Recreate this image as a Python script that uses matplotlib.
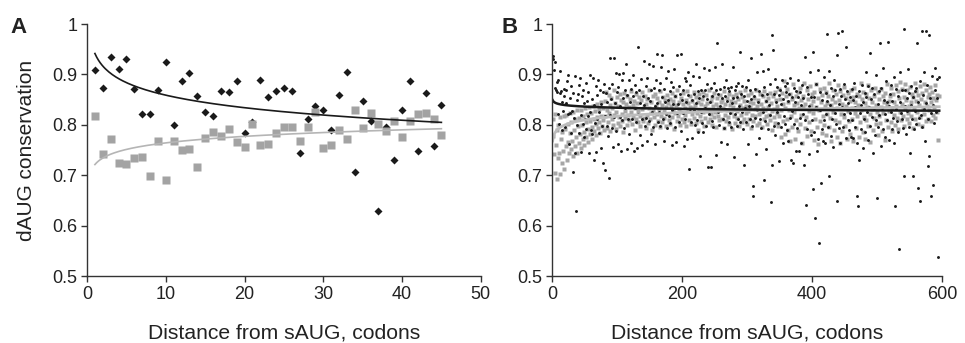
import numpy as np
import matplotlib
matplotlib.use('Agg')
import matplotlib.pyplot as plt

plt.rcParams['font.family'] = ['Liberation Sans', 'DejaVu Sans']

# panel A: first 45 codons
a_x = np.arange(1, 46)
a_black = [0.909, 0.874, 0.934, 0.910, 0.930, 0.871, 0.821, 0.821, 0.869, 0.924,
           0.799, 0.886, 0.902, 0.858, 0.825, 0.817, 0.868, 0.866, 0.887, 0.783,
           0.805, 0.889, 0.856, 0.868, 0.874, 0.867, 0.744, 0.812, 0.838, 0.830,
           0.789, 0.859, 0.904, 0.707, 0.848, 0.807, 0.628, 0.795, 0.730, 0.830,
           0.887, 0.748, 0.864, 0.758, 0.840]
a_grey = [0.817, 0.742, 0.772, 0.725, 0.723, 0.734, 0.736, 0.698, 0.768, 0.691,
          0.768, 0.750, 0.752, 0.717, 0.774, 0.785, 0.778, 0.791, 0.766, 0.756,
          0.801, 0.759, 0.762, 0.784, 0.795, 0.795, 0.768, 0.795, 0.825, 0.754,
          0.759, 0.790, 0.772, 0.829, 0.793, 0.823, 0.802, 0.787, 0.808, 0.776,
          0.808, 0.821, 0.823, 0.811, 0.780]

# panel B: first 595 codons, values in thousandths
b_black_txt = """
936 930 909 873 925 869 885 866 822 889 801 864 906 867 846 789 828 871 857 796
869 844 886 822 898 761 824 853 877 784 828 864 707 814 897 745 628 800 850 861
783 878 893 747 820 858 801 869 844 776 812 883 791 848 866 817 745 899 826 790
852 781 893 839 731 804 877 746 859 812 889 783 825 870 754 841 797 866 724 880
818 710 864 798 846 777 694 873 820 932 852 793 881 756 932 815 844 902 787 866
762 876 901 815 838 748 889 810 853 903 794 870 833 920 752 860 811 889 781 846
871 764 812 898 857 748 834 879 806 866 754 955 821 869 843 780 891 812 760 857
926 840 798 877 813 893 768 854 921 807 848 782 869 826 917 795 873 838 761 889
843 940 806 870 826 883 798 915 856 939 812 871 768 845 892 822 793 906 850 818
867 803 884 829 759 876 842 910 795 858 765 823 939 841 877 806 862 940 787 850
824 870 758 893 812 846 887 771 860 904 712 832 878 805 850 773 897 829 861 799
844 920 810 867 786 853 894 739 826 870 803 858 786 912 833 869 797 851 880 717
822 909 845 717 873 808 857 795 883 830 914 869 741 962 825 861 800 872 838 765
854 921 812 876 793 857 832 889 761 848 873 806 868 823 875 795 843 914 854 736
869 821 877 798 856 811 883 838 944 805 862 826 877 791 858 720 833 876 806 847
889 761 838 870 812 852 932 798 679 659 857 813 871 742 904 829 845 774 868 811
940 793 859 825 906 690 876 808 848 752 862 911 791 840 880 819 646 979 720 948
861 797 890 779 846 826 875 803 859 729 870 796 842 889 763 851 818 877 802 866
882 790 848 768 861 813 892 731 855 827 724 874 801 846 748 868 793 856 889 748
866 814 840 764 879 822 853 720 934 809 641 876 792 861 742 837 904 779 856 809
673 944 856 786 615 835 880 749 908 772 565 829 866 684 791 850 767 895 810 763
863 822 981 847 796 906 699 840 778 874 812 857 756 889 824 869 801 938 648 982
842 793 871 764 858 987 835 795 880 822 851 955 774 868 809 843 789 856 823 776
872 810 849 773 882 836 795 857 764 658 638 730 868 823 840 791 879 754 846 812
863 786 855 904 825 769 877 835 942 798 852 816 874 745 833 862 780 899 810 655
841 796 867 819 962 757 873 834 912 791 850 822 776 887 809 846 965 770 838 861
826 878 792 848 813 895 764 639 831 872 808 857 785 553 846 904 823 869 812 794
699 990 838 869 781 853 827 910 795 864 745 839 877 812 699 856 791 868 827 873
802 962 675 846 813 887 649 819 987 795 860 832 904 768 987 843 878 811 719 738
979 854 823 658 897 681 839 804 912 869 826 854 890 538 895
"""

b_grey_txt = """
812 778 742 705 822 760 790 693 735 800 745 702 815 772 725 786 748 818 712 792
758 820 730 801 765 744 823 784 752 806 768 738 826 790 758 812 775 745 829 797
763 814 781 753 830 800 771 817 786 760 833 805 776 821 791 766 835 808 781 824
796 772 838 812 787 828 801 779 842 815 793 831 806 784 845 818 797 834 810 789
848 817 866 794 830 806 859 823 839 788 853 811 834 800 870 820 843 792 826 856
804 837 815 862 797 850 822 808 845 786 864 828 813 841 799 857 819 835 809 852
825 868 801 839 816 847 790 833 861 812 844 805 828 855 818 797 849 831 866 807
836 814 858 793 842 820 851 803 834 869 811 846 824 789 857 829 816 862 800 838
821 853 808 845 832 795 867 818 840 806 856 827 813 849 798 836 860 822 843 810
852 801 837 864 815 829 847 792 858 823 839 808 870 817 845 831 799 854 826 812
841 863 806 834 819 850 797 868 827 844 810 835 857 802 848 821 833 865 814 839
803 855 824 846 790 861 830 817 842 808 851 826 866 798 837 813 859 828 844 805
832 869 811 847 822 800 856 838 815 863 826 841 796 853 818 835 809 860 829 845
812 849 833 794 867 820 842 807 854 830 816 861 801 839 825 848 792 857 836 818
845 803 862 827 814 851 832 797 866 840 819 855 806 834 848 811 869 823 838 801
859 828 812 846 835 793 864 820 843 808 853 831 817 870 799 837 850 822 804 861
826 841 795 857 833 812 868 830 818 847 801 854 836 820 863 809 844 827 790 858
832 815 866 804 849 823 838 797 872 817 852 829 775 863 808 842 886 781 834 857
812 871 790 846 829 768 861 818 852 796 880 825 839 772 858 810 844 866 787 833
874 801 849 820 763 857 836 883 794 842 815 869 778 851 827 806 877 840 788 862
823 848 770 866 811 835 880 796 853 762 829 871 807 845 783 859 818 874 800 838
865 779 843 821 857 795 883 814 839 768 852 826 870 790 846 809 861 776 834 878
805 850 764 867 822 841 787 859 815 876 798 837 853 771 864 828 808 847 782 869
833 811 856 767 873 824 845 794 862 818 839 775 857 806 882 829 851 786 866 816
843 772 861 809 836 878 797 854 822 765 869 831 845 790 858 813 874 801 840 826
779 866 817 851 803 835 872 788 857 824 846 769 863 810 839 881 795 848 827 858
806 873 833 787 861 819 845 800 878 838 814 867 792 853 826 884 809 842 872 818
856 797 880 831 849 812 869 823 838 804 875 845 817 862 793 856 834 883 811 848
868 826 802 859 840 877 815 851 798 864 833 880 821 845 807 870 838 856 812 862
829 875 808 846 866 819 853 836 879 813 849 860 825 770 857
"""

b_black = np.array(b_black_txt.split(), dtype=float) / 1000
b_grey = np.array(b_grey_txt.split(), dtype=float) / 1000
b_x = np.arange(1, len(b_black) + 1)

# panel B trendlines: value at codon 1 and at codon 600
b_black_trend = (0.849, 0.828)
b_grey_trend = (0.768, 0.836)

y_ticks = [0.5, 0.6, 0.7, 0.8, 0.9, 1.0]
y_labels = ['0.5', '0.6', '0.7', '0.8', '0.9', '1']


def log_line(x, ends):
    # y = y1 + k*ln(x), through the two read-off ends
    k = (ends[1] - ends[0]) / np.log(600)
    return ends[0] + k * np.log(x)


def style_axes(ax, xmax, xstep):
    for s in ['top', 'right']:
        ax.spines[s].set_visible(False)
    for s in ['left', 'bottom']:
        ax.spines[s].set_color('#333333')
        ax.spines[s].set_linewidth(1.0)
    ax.set_xlim(0, xmax)
    ax.set_ylim(0.5, 1.0)
    ax.set_xticks(np.arange(0, xmax + 1, xstep))
    ax.set_yticks(y_ticks)
    ax.set_yticklabels(y_labels)
    ax.tick_params(direction='out', length=4, width=1, colors='#333333',
                   labelsize=13, labelcolor='#222222', pad=3)
    ax.set_xlabel('Distance from sAUG, codons', fontsize=15.2, color='#222222', labelpad=15)


fig = plt.figure(figsize=(9.65, 3.43), dpi=100)
ax1 = fig.add_axes([0.0902, 0.1953, 0.408, 0.7347])
ax2 = fig.add_axes([0.572, 0.1953, 0.404, 0.7347])

ax1.plot(a_x, a_black, 'D', color='#1a1a1a', ms=3.8, mec='none', clip_on=False)
ax1.plot(a_x, a_grey, 's', color='#a3a3a3', ms=5.2, mec='none', clip_on=False)
xx = np.linspace(1, 45, 200)
ka = np.polyfit(np.log(a_x), a_black, 1)
kg = np.polyfit(np.log(a_x), a_grey, 1)
ax1.plot(xx, ka[0] * np.log(xx) + ka[1], color='#1a1a1a', lw=1.2)
ax1.plot(xx, kg[0] * np.log(xx) + kg[1], color='#b5b5b5', lw=1.2)
style_axes(ax1, 50, 10)
ax1.set_ylabel('dAUG conservation', fontsize=15, color='#222222', labelpad=12)

xb = np.linspace(1, 596, 600)
ax2.plot(b_x, b_grey, 's', color='#a6a6a6', ms=2.3, mec='none')
ax2.plot(b_x, b_black, 'o', color='#1a1a1a', ms=2.1, mec='none')
ax2.plot(xb, log_line(xb, b_grey_trend), color='#bdbdbd', lw=2.0)
ax2.plot(xb, log_line(xb, b_black_trend), color='#1a1a1a', lw=1.8)
style_axes(ax2, 600, 200)

fig.text(0.011, 0.905, 'A', fontsize=16, fontweight='bold', color='#222222')
fig.text(0.520, 0.905, 'B', fontsize=16, fontweight='bold', color='#222222')

fig.savefig('out.png', dpi=100)
